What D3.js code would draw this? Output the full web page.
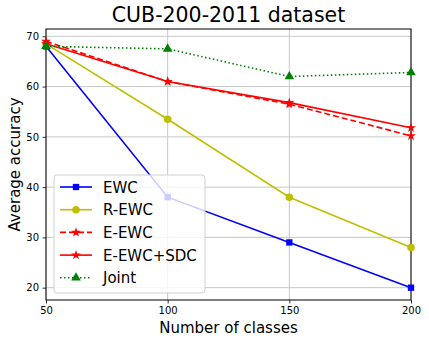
<!DOCTYPE html>
<html>
<head>
<meta charset="utf-8">
<script src="https://cdn.jsdelivr.net/npm/d3@7"></script>
<style>
  body { margin: 0; background: #fff; }
  text { font-family: "DejaVu Sans", sans-serif; }
</style>
</head>
<body>
<script>
// Chart data
const classes = [50, 100, 150, 200];
const ewc = [68, 38, 29, 20];
const rEwc = [68.5, 53.5, 38, 28];
const eEwc = [69, 61, 56.5, 50.2];
const eEwcSdc = [68.5, 61, 56.8, 51.8];
const joint = [68, 67.5, 62, 62.8];
const xTicks = [50, 100, 150, 200];
const yTicks = [20, 30, 40, 50, 60, 70];

const series = [
  { name: "EWC", values: ewc, color: "#0000ff", dash: null, marker: "square" },
  { name: "R-EWC", values: rEwc, color: "#bfbf00", dash: null, marker: "circle" },
  { name: "E-EWC", values: eEwc, color: "#ff0000", dash: "6,3", marker: "star" },
  { name: "E-EWC+SDC", values: eEwcSdc, color: "#ff0000", dash: null, marker: "star" },
  { name: "Joint", values: joint, color: "#008000", dash: "1.5,2.5", marker: "triangle" }
];

const width = 429, height = 344;
const margin = { top: 29, right: 18, bottom: 44, left: 46 };

const svg = d3.select("body").append("svg")
  .attr("width", width)
  .attr("height", height);

const x = d3.scaleLinear().domain([50, 200]).range([margin.left, width - margin.right]);
const y = d3.scaleLinear().domain([17.55, 71.45]).range([height - margin.bottom, margin.top]);

// Grid
svg.append("g").selectAll("line.gx")
  .data(xTicks).enter().append("line")
  .attr("x1", d => x(d)).attr("x2", d => x(d))
  .attr("y1", y.range()[0]).attr("y2", y.range()[1])
  .attr("stroke", "#c8c8c8").attr("stroke-width", 1);
svg.append("g").selectAll("line.gy")
  .data(yTicks).enter().append("line")
  .attr("x1", x.range()[0]).attr("x2", x.range()[1])
  .attr("y1", d => y(d)).attr("y2", d => y(d))
  .attr("stroke", "#c8c8c8").attr("stroke-width", 1);

// Axes
const xAxis = svg.append("g")
  .attr("transform", `translate(0,${height - margin.bottom})`)
  .call(d3.axisBottom(x).tickValues(xTicks).tickSize(3.5).tickPadding(3.5));
const yAxis = svg.append("g")
  .attr("transform", `translate(${margin.left},0)`)
  .call(d3.axisLeft(y).tickValues(yTicks).tickSize(3.5).tickPadding(3.5));
[xAxis, yAxis].forEach(a => {
  a.select(".domain").remove();
  a.selectAll("text").attr("font-size", 10).attr("fill", "#000")
    .attr("font-family", "DejaVu Sans, sans-serif");
  a.selectAll("line").attr("stroke", "#000").attr("stroke-width", 0.8);
});

// Frame
svg.append("rect")
  .attr("x", margin.left).attr("y", margin.top)
  .attr("width", width - margin.left - margin.right)
  .attr("height", height - margin.top - margin.bottom)
  .attr("fill", "none").attr("stroke", "#000").attr("stroke-width", 1);

const symbols = {
  square: d3.symbol().type(d3.symbolSquare).size(40),
  circle: d3.symbol().type(d3.symbolCircle).size(45),
  star: d3.symbol().type(d3.symbolStar).size(30),
  triangle: d3.symbol().type(d3.symbolTriangle).size(40)
};

const line = d3.line().x((d, i) => x(classes[i])).y(d => y(d));

const plot = svg.append("g");
series.forEach(s => {
  plot.append("path")
    .datum(s.values)
    .attr("d", line)
    .attr("fill", "none")
    .attr("stroke", s.color)
    .attr("stroke-width", 1.6)
    .attr("stroke-dasharray", s.dash);
  plot.selectAll(null)
    .data(s.values).enter().append("path")
    .attr("d", symbols[s.marker])
    .attr("transform", (d, i) => `translate(${x(classes[i])},${y(d)})`)
    .attr("fill", s.color);
});

// Legend
const legend = svg.append("g").attr("transform", "translate(54,175)");
legend.append("rect")
  .attr("width", 151).attr("height", 118)
  .attr("rx", 3)
  .attr("fill", "#fff").attr("fill-opacity", 0.8)
  .attr("stroke", "#d0d0d0");
series.forEach((s, i) => {
  const row = legend.append("g").attr("transform", `translate(0,${12 + i * 22.7})`);
  row.append("line")
    .attr("x1", 6).attr("x2", 38)
    .attr("stroke", s.color).attr("stroke-width", 1.6)
    .attr("stroke-dasharray", s.dash);
  row.append("path")
    .attr("d", symbols[s.marker])
    .attr("transform", "translate(22,0)")
    .attr("fill", s.color);
  row.append("text")
    .attr("x", 49).attr("y", 5.5)
    .attr("font-size", 15)
    .text(s.name);
});

// Title and labels
svg.append("text")
  .attr("x", (margin.left + width - margin.right) / 2).attr("y", 22)
  .attr("text-anchor", "middle").attr("font-size", 20.5)
  .text("CUB-200-2011 dataset");
svg.append("text")
  .attr("x", (margin.left + width - margin.right) / 2).attr("y", 333)
  .attr("text-anchor", "middle").attr("font-size", 15)
  .text("Number of classes");
svg.append("text")
  .attr("transform", `translate(20,${(margin.top + height - margin.bottom) / 2}) rotate(-90)`)
  .attr("text-anchor", "middle").attr("font-size", 15)
  .text("Average accuracy");
</script>
</body>
</html>
